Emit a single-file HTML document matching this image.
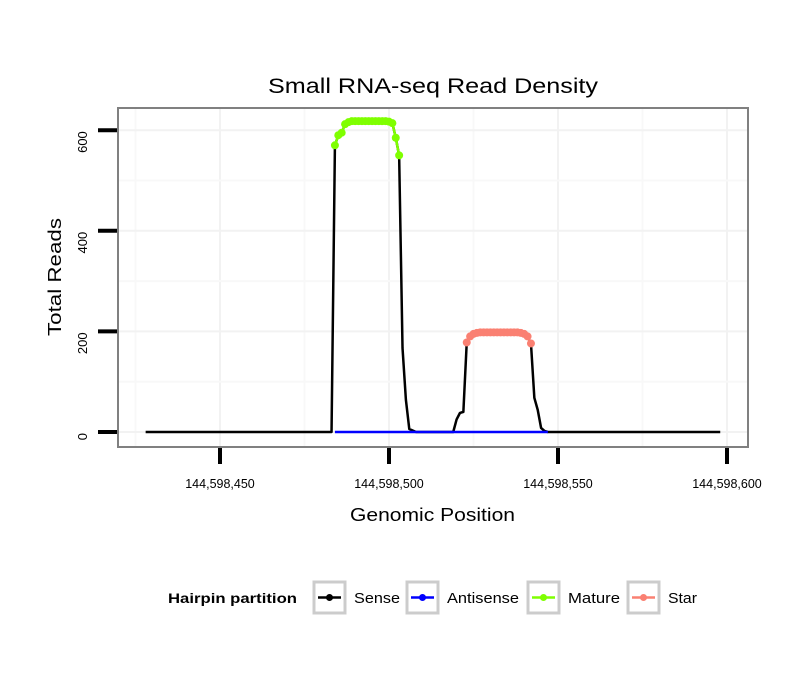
<!DOCTYPE html>
<html><head><meta charset="utf-8"><style>
body{margin:0;background:#fff;font-family:"Liberation Sans",sans-serif;}
</style></head><body>
<svg id="chart" width="810" height="690" xmlns="http://www.w3.org/2000/svg">
<text x="268" y="93" font-size="21" textLength="330" lengthAdjust="spacingAndGlyphs">Small RNA-seq Read Density</text>
<rect x="118" y="108" width="630" height="339" fill="#fff"/>
<g id="grid"></g>
<g id="series"></g>
<rect x="118" y="108" width="630" height="339" fill="none" stroke="#808080" stroke-width="2"/>
<g id="axes"></g>
<text x="350" y="521" font-size="18" textLength="165" lengthAdjust="spacingAndGlyphs">Genomic Position</text>
<text transform="translate(61,336) rotate(-90)" font-size="18" textLength="118" lengthAdjust="spacingAndGlyphs">Total Reads</text>
<g>
<text x="168" y="603" font-size="14" font-weight="bold" textLength="129" lengthAdjust="spacingAndGlyphs">Hairpin partition</text>
<g id="legend"></g>
</g>
</svg>
<script>
const sensePos=[];for(let p=144598428;p<=144598598;p++)sensePos.push(p);
const senseHigh={144598484:570,144598485:590,144598486:595,144598487:612,144598488:616,144598489:618,144598490:618,144598491:618,144598492:618,144598493:618,144598494:618,144598495:618,144598496:618,144598497:618,144598498:618,144598499:618,144598500:617,144598501:614,144598502:585,144598503:550,144598504:167,144598505:64,144598506:6,144598507:3,
144598520:25,144598521:38,144598522:40,144598523:178,144598524:190,144598525:195,144598526:197,144598527:198,144598528:198,144598529:198,144598530:198,144598531:198,144598532:198,144598533:198,144598534:198,144598535:198,144598536:198,144598537:198,144598538:198,144598539:197,144598540:195,144598541:190,144598542:176,144598543:68,144598544:44,144598545:8,144598546:2};
const senseVals=sensePos.map(p=>senseHigh[p]||0);
const antiPos=[144598484,144598506,144598519,144598547];
const antiVals=[0,0,0,0];
const maturePos=[];for(let p=144598484;p<=144598503;p++)maturePos.push(p);
const matureVals=maturePos.map(p=>senseHigh[p]);
const starPos=[];for(let p=144598523;p<=144598542;p++)starPos.push(p);
const starVals=starPos.map(p=>senseHigh[p]);
const xTicks=[144598450,144598500,144598550,144598600];
const xTickLabels=["144,598,450","144,598,500","144,598,550","144,598,600"];
const yTicks=[0,200,400,600];
const legendLabels=["Sense","Antisense","Mature","Star"];
const legendColors=["#000000","#0000ff","#7fff00","#fa8072"];

const NS="http://www.w3.org/2000/svg";
const xs=v=>389+(v-144598500)*3.38;
const ys=v=>432-v*0.503;
function mk(t,a,parent){const e=document.createElementNS(NS,t);for(const k in a)e.setAttribute(k,a[k]);document.getElementById(parent).appendChild(e);return e;}
xTicks.forEach((t,i)=>{
 const l=mk('line',{x1:xs(t),x2:xs(t),y1:109,y2:446,stroke:'#f2f2f2','stroke-width':2},'grid');
 
 
 const m=mk('line',{x1:xs(t-25),x2:xs(t-25),y1:109,y2:446,stroke:'#f8f8f8','stroke-width':2},'grid');
 
 
 const tk=mk('line',{x1:xs(t),x2:xs(t),y1:448,y2:464,stroke:'#000','stroke-width':4},'axes');
 
 
 const tx=mk('text',{x:xs(t),y:488,'font-size':12.5,'text-anchor':'middle'},'axes');
 tx.textContent=xTickLabels[i];
 
 
});
yTicks.forEach((t,i)=>{
 const l=mk('line',{x1:119,x2:747,y1:ys(t),y2:ys(t),stroke:'#f2f2f2','stroke-width':2},'grid');
 
 
 if(i<yTicks.length-1){const m=mk('line',{x1:119,x2:747,y1:ys(t+100),y2:ys(t+100),stroke:'#f8f8f8','stroke-width':2},'grid');
 
 }
 const tk=mk('line',{x1:98,x2:117,y1:ys(t),y2:ys(t),stroke:'#000','stroke-width':4},'axes');
 
 
 const tx=mk('text',{transform:`translate(87,${ys(t)+1}) rotate(-90)`,'font-size':13,'text-anchor':'end'},'axes');
 tx.textContent=t;
 
 
});
function line(pos,vals,color,name){
 const p=mk('polyline',{points:pos.map((x,i)=>xs(x)+','+ys(vals[i])).join(' '),fill:'none',stroke:color,'stroke-width':2.5,'stroke-linejoin':'round'},'series');
 
 
}
function pts(pos,vals,color,name){
 pos.forEach((x,i)=>{const c=mk('circle',{cx:xs(x),cy:ys(vals[i]),r:4,fill:color},'series');
 
 });
}
line(sensePos,senseVals,'#000','sense-line');
line(antiPos,antiVals,'#0000ff','antisense-line');
line(maturePos,matureVals,'#7fff00','mature-line');
pts(maturePos,matureVals,'#7fff00','mature-point');
line(starPos,starVals,'#fa8072','star-line');
pts(starPos,starVals,'#fa8072','star-point');
const lx=[314,407,528,628];
const lw=[46,72,52,29];
legendLabels.forEach((lab,i)=>{
 const x=lx[i];
 const r=mk('rect',{x:x,y:582,width:31,height:31,fill:'#fff',stroke:'#cccccc','stroke-width':3},'legend');
 
 
 const l=mk('line',{x1:x+4,x2:x+27,y1:597.5,y2:597.5,stroke:legendColors[i],'stroke-width':2.5},'legend');
 
 
 const c=mk('circle',{cx:x+15.5,cy:597.5,r:3.5,fill:legendColors[i]},'legend');
 
 
 const t=mk('text',{x:x+40,y:603,'font-size':15,textLength:lw[i],lengthAdjust:'spacingAndGlyphs'},'legend');
 t.textContent=lab;
 
 
});
</script>
</body></html>
